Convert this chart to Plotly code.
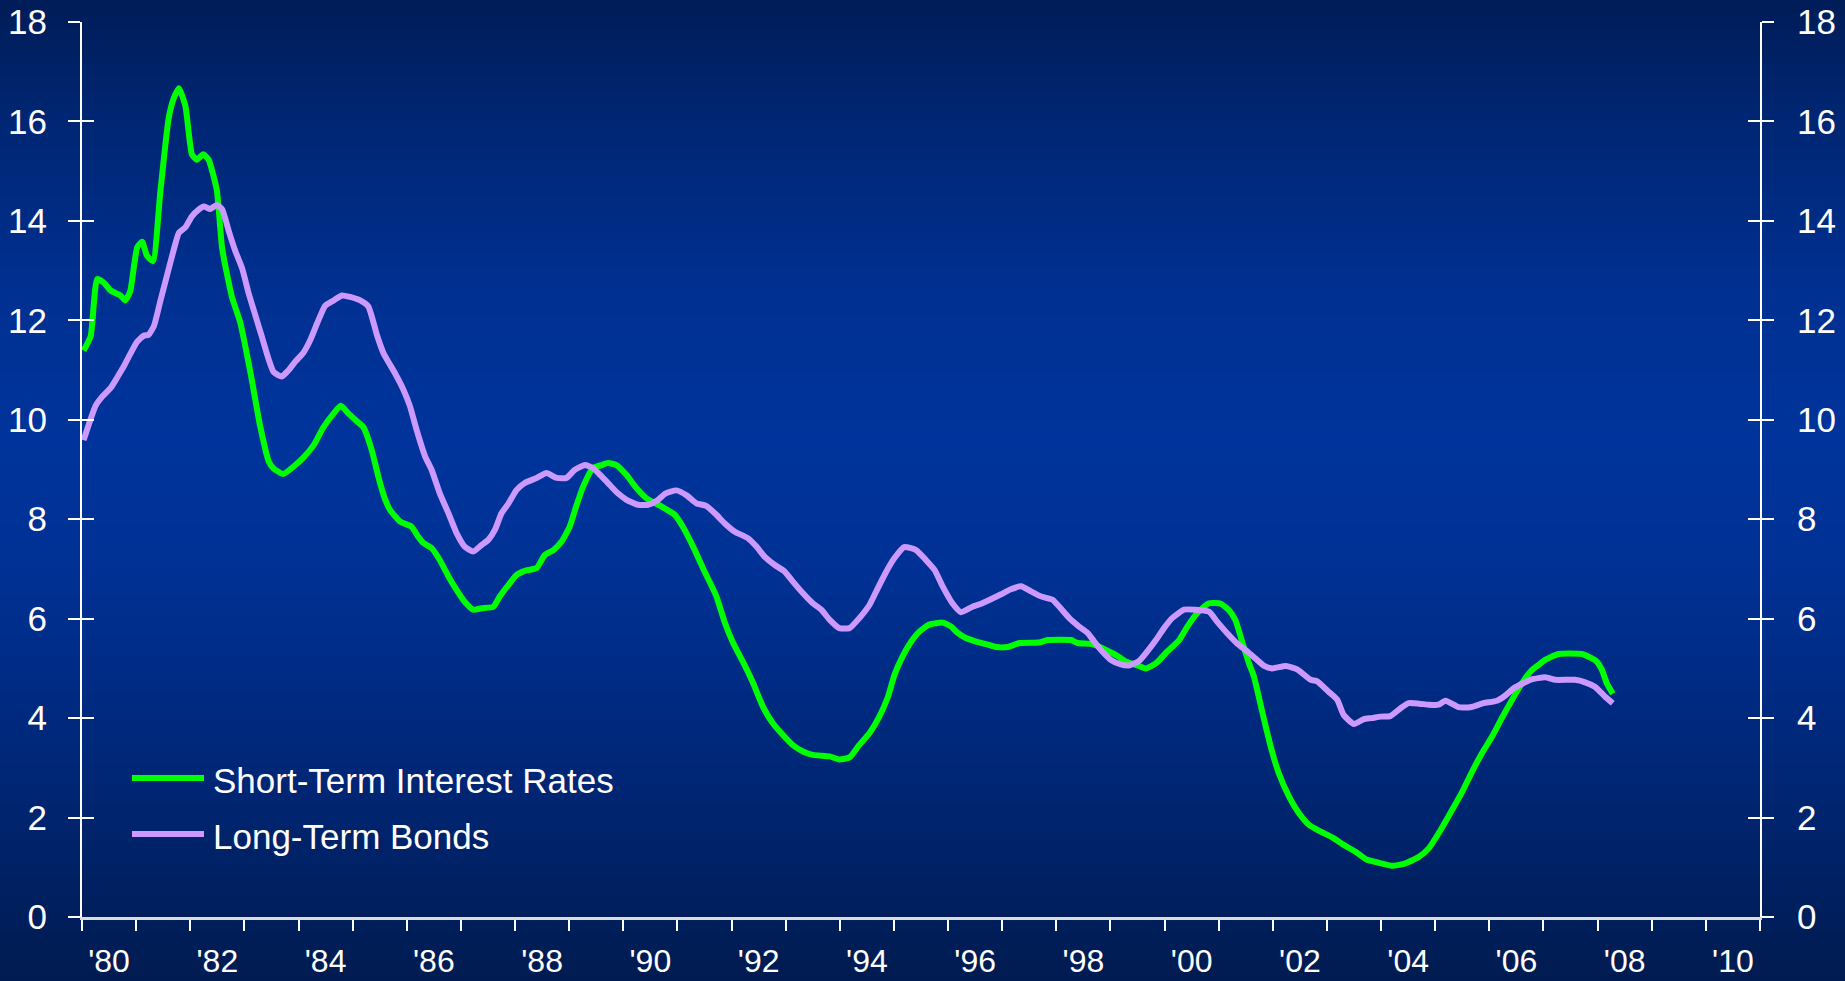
import plotly.graph_objects as go

# ---------------- data ----------------
st_years = [1980.03, 1980.16, 1980.28, 1980.40, 1980.53, 1980.71, 1980.80, 1980.89, 1981.02, 1981.11,
            1981.20, 1981.31, 1981.45, 1981.60, 1981.69, 1981.79, 1981.91, 1982.03, 1982.12, 1982.24,
            1982.34, 1982.49, 1982.59, 1982.77, 1982.92, 1983.11, 1983.29, 1983.45, 1983.54, 1983.72,
            1983.91, 1984.09, 1984.28, 1984.46, 1984.65, 1984.78, 1984.92, 1985.08, 1985.20, 1985.35,
            1985.50, 1985.60, 1985.69, 1985.88, 1986.09, 1986.21, 1986.31, 1986.46, 1986.61, 1986.77,
            1986.92, 1987.07, 1987.23, 1987.38, 1987.60, 1987.72, 1987.88, 1988.03, 1988.21, 1988.40,
            1988.55, 1988.71, 1988.86, 1989.01, 1989.13, 1989.26, 1989.44, 1989.60, 1989.72, 1989.87,
            1990.06, 1990.24, 1990.43, 1990.70, 1990.95, 1991.10, 1991.29, 1991.47, 1991.72, 1991.87,
            1992.03, 1992.24, 1992.40, 1992.58, 1992.76, 1992.95, 1993.13, 1993.32, 1993.50, 1993.81,
            1993.99, 1994.18, 1994.36, 1994.55, 1994.73, 1994.89, 1995.01, 1995.16, 1995.32, 1995.47,
            1995.65, 1995.90, 1996.06, 1996.15, 1996.33, 1996.52, 1996.70, 1996.89, 1997.10, 1997.32,
            1997.68, 1997.84, 1998.27, 1998.39, 1998.67, 1998.88, 1999.13, 1999.28, 1999.50, 1999.65,
            1999.84, 2000.05, 2000.27, 2000.42, 2000.60, 2000.82, 2001.04, 2001.19, 2001.31, 2001.44,
            2001.56, 2001.65, 2001.81, 2001.96, 2002.11, 2002.30, 2002.48, 2002.67, 2002.88, 2003.10,
            2003.31, 2003.53, 2003.74, 2003.96, 2004.20, 2004.45, 2004.70, 2004.88, 2005.10, 2005.28,
            2005.50, 2005.68, 2005.86, 2006.05, 2006.23, 2006.42, 2006.60, 2006.79, 2006.91, 2007.03,
            2007.28, 2007.71, 2007.86, 2007.98, 2008.08, 2008.17, 2008.28]
st_rates = [11.39, 11.68, 12.83, 12.76, 12.60, 12.50, 12.40, 12.58, 13.47, 13.58,
            13.30, 13.19, 14.62, 16.06, 16.45, 16.67, 16.31, 15.34, 15.23, 15.34,
            15.23, 14.62, 13.44, 12.47, 11.97, 10.96, 9.88, 9.16, 9.02, 8.91,
            9.06, 9.24, 9.49, 9.85, 10.13, 10.28, 10.13, 9.97, 9.85, 9.40,
            8.75, 8.40, 8.19, 7.95, 7.85, 7.65, 7.52, 7.42, 7.18, 6.85,
            6.58, 6.34, 6.18, 6.21, 6.24, 6.45, 6.68, 6.88, 6.97, 7.02,
            7.28, 7.38, 7.55, 7.85, 8.26, 8.66, 9.03, 9.09, 9.13, 9.09,
            8.89, 8.63, 8.42, 8.26, 8.09, 7.85, 7.45, 7.02, 6.45, 5.94,
            5.51, 5.07, 4.70, 4.23, 3.90, 3.66, 3.46, 3.33, 3.26, 3.23,
            3.17, 3.21, 3.46, 3.70, 4.03, 4.43, 4.87, 5.24, 5.54, 5.74,
            5.88, 5.92, 5.84, 5.74, 5.61, 5.54, 5.49, 5.43, 5.43, 5.51,
            5.52, 5.57, 5.57, 5.51, 5.49, 5.39, 5.25, 5.14, 5.06, 5.00,
            5.10, 5.34, 5.57, 5.84, 6.11, 6.31, 6.30, 6.17, 5.97, 5.51,
            5.10, 4.84, 4.10, 3.43, 2.89, 2.42, 2.09, 1.85, 1.72, 1.60,
            1.45, 1.31, 1.15, 1.09, 1.03, 1.08, 1.21, 1.38, 1.75, 2.09,
            2.52, 2.92, 3.29, 3.63, 4.00, 4.37, 4.70, 4.97, 5.07, 5.17,
            5.29, 5.29, 5.22, 5.14, 4.97, 4.70, 4.49]

lt_years = [1980.03, 1980.13, 1980.25, 1980.37, 1980.53, 1980.65, 1980.77, 1980.89, 1981.02, 1981.14,
            1981.23, 1981.33, 1981.45, 1981.57, 1981.69, 1981.79, 1981.91, 1982.03, 1982.16, 1982.25,
            1982.37, 1982.49, 1982.59, 1982.71, 1982.83, 1982.96, 1983.08, 1983.20, 1983.32, 1983.45,
            1983.54, 1983.69, 1983.81, 1983.94, 1984.09, 1984.22, 1984.34, 1984.49, 1984.65, 1984.80,
            1984.95, 1985.14, 1985.29, 1985.45, 1985.57, 1985.78, 1985.94, 1986.06, 1986.18, 1986.34,
            1986.46, 1986.61, 1986.77, 1986.92, 1987.07, 1987.23, 1987.38, 1987.51, 1987.63, 1987.75,
            1987.88, 1988.03, 1988.18, 1988.40, 1988.58, 1988.77, 1988.95, 1989.10, 1989.29, 1989.44,
            1989.60, 1989.75, 1989.90, 1990.06, 1990.27, 1990.46, 1990.62, 1990.77, 1990.98, 1991.17,
            1991.35, 1991.53, 1991.72, 1991.87, 1992.06, 1992.30, 1992.46, 1992.61, 1992.80, 1992.98,
            1993.13, 1993.32, 1993.50, 1993.66, 1993.81, 1993.99, 1994.18, 1994.36, 1994.55, 1994.70,
            1994.86, 1995.01, 1995.19, 1995.41, 1995.59, 1995.75, 1995.90, 1996.08, 1996.24, 1996.45,
            1996.61, 1996.79, 1996.98, 1997.16, 1997.35, 1997.53, 1997.71, 1997.93, 1998.08, 1998.24,
            1998.42, 1998.58, 1998.70, 1998.85, 1999.01, 1999.19, 1999.34, 1999.53, 1999.68, 1999.84,
            1999.99, 2000.14, 2000.36, 2000.57, 2000.82, 2000.97, 2001.17, 2001.35, 2001.53, 2001.71,
            2001.84, 2001.99, 2002.24, 2002.45, 2002.70, 2002.82, 2003.03, 2003.19, 2003.31, 2003.50,
            2003.68, 2003.83, 2003.99, 2004.17, 2004.36, 2004.51, 2004.70, 2004.88, 2005.06, 2005.19,
            2005.43, 2005.65, 2005.89, 2006.14, 2006.29, 2006.45, 2006.66, 2006.78, 2007.03, 2007.22,
            2007.58, 2007.77, 2007.95, 2008.14, 2008.28]
lt_rates = [9.59, 9.92, 10.28, 10.46, 10.64, 10.85, 11.07, 11.32, 11.57, 11.69,
            11.71, 11.89, 12.40, 12.90, 13.40, 13.76, 13.87, 14.09, 14.23, 14.29,
            14.24, 14.32, 14.23, 13.80, 13.40, 13.04, 12.54, 12.11, 11.68, 11.21,
            10.96, 10.87, 10.99, 11.17, 11.35, 11.61, 11.93, 12.29, 12.40, 12.50,
            12.47, 12.40, 12.28, 11.70, 11.34, 10.94, 10.60, 10.27, 9.80, 9.26,
            8.99, 8.52, 8.12, 7.72, 7.45, 7.35, 7.48, 7.59, 7.79, 8.12,
            8.32, 8.59, 8.73, 8.83, 8.93, 8.83, 8.83, 8.99, 9.09, 9.03,
            8.86, 8.69, 8.52, 8.39, 8.29, 8.29, 8.37, 8.51, 8.58, 8.48,
            8.32, 8.27, 8.09, 7.92, 7.75, 7.62, 7.45, 7.25, 7.08, 6.95,
            6.75, 6.51, 6.31, 6.18, 5.98, 5.81, 5.81, 6.01, 6.28, 6.61,
            6.95, 7.22, 7.44, 7.38, 7.18, 6.98, 6.65, 6.31, 6.13, 6.24,
            6.30, 6.39, 6.49, 6.59, 6.65, 6.55, 6.45, 6.38, 6.21, 6.01,
            5.84, 5.71, 5.54, 5.34, 5.17, 5.08, 5.06, 5.15, 5.34, 5.57,
            5.81, 6.01, 6.18, 6.18, 6.14, 5.94, 5.69, 5.49, 5.34, 5.17,
            5.05, 5.00, 5.05, 4.98, 4.77, 4.74, 4.53, 4.37, 4.06, 3.88,
            3.98, 4.00, 4.03, 4.04, 4.20, 4.30, 4.29, 4.27, 4.27, 4.35,
            4.22, 4.22, 4.30, 4.35, 4.45, 4.60, 4.72, 4.78, 4.82, 4.77,
            4.77, 4.72, 4.63, 4.43, 4.30]

series_names = ["Short-Term Interest Rates", "Long-Term Bonds"]
series_colors = ["#00ff00", "#cc99ff"]

tick_years = list(range(1980, 2012))
label_years = [1980, 1982, 1984, 1986, 1988, 1990, 1992, 1994, 1996, 1998,
               2000, 2002, 2004, 2006, 2008, 2010]
tick_labels = ["'80", "'82", "'84", "'86", "'88", "'90", "'92", "'94", "'96", "'98",
               "'00", "'02", "'04", "'06", "'08", "'10"]
y_ticks = [0, 2, 4, 6, 8, 10, 12, 14, 16, 18]

# ---------------- layout constants ----------------
W, H = 1845, 981
ML, MR, MT, MB = 82, 85, 22, 64
PW, PH = W - ML - MR, H - MT - MB
FONT = "Liberation Sans, Arial, sans-serif"
WHITE = "#ffffff"

fig = go.Figure()
fig.add_trace(go.Scatter(x=st_years, y=st_rates, mode="lines", name=series_names[0],
                         line=dict(color=series_colors[0], width=6, shape="spline", smoothing=0.5),
                         showlegend=False, hoverinfo="x+y"))
fig.add_trace(go.Scatter(x=lt_years, y=lt_rates, mode="lines", name=series_names[1],
                         line=dict(color=series_colors[1], width=6, shape="spline", smoothing=0.5),
                         showlegend=False, hoverinfo="x+y"))

# invisible helper traces so the overlay axes are drawn
for xa, ya in [("x2", "y"), ("x", "y2"), ("x", "y3"), ("x", "y4")]:
    fig.add_trace(go.Scatter(x=[tick_years[0]], y=[y_ticks[0]], xaxis=xa, yaxis=ya,
                             mode="markers", marker=dict(opacity=0, size=1),
                             showlegend=False, hoverinfo="skip"))

# ---------------- background gradient (bands) ----------------
stops = [(0.00, (0, 28, 88)), (0.12, (0, 38, 115)), (0.30, (0, 48, 145)),
         (0.45, (0, 52, 156)), (0.60, (0, 48, 146)), (0.80, (0, 38, 116)),
         (0.92, (0, 31, 94)), (1.00, (0, 27, 80))]


def grad(f):
    for (f0, c0), (f1, c1) in zip(stops[:-1], stops[1:]):
        if f0 <= f <= f1:
            t = (f - f0) / (f1 - f0)
            return "rgb(%d,%d,%d)" % tuple(round(a + (b - a) * t) for a, b in zip(c0, c1))
    return "rgb(%d,%d,%d)" % stops[-1][1]


def py(p):  # pixel row from top -> paper y
    return (H - MB - p) / PH


def px(p):  # pixel column from left -> paper x
    return (p - ML) / PW


NB = 140
for i in range(NB):
    p0, p1 = i * H / NB, (i + 1) * H / NB + 0.8
    if i == 0:
        p0 = -30
    if i == NB - 1:
        p1 = H + 30
    fig.add_shape(type="rect", xref="paper", yref="paper", x0=px(-30), x1=px(W + 30),
                  y0=py(p1), y1=py(p0), fillcolor=grad((i + 0.5) / NB),
                  line=dict(width=0), layer="below")

# ---------------- custom legend ----------------
leg_rows = [778, 834]
for name, color, row in zip(series_names, series_colors, leg_rows):
    fig.add_shape(type="line", xref="paper", yref="paper", x0=px(132), x1=px(204),
                  y0=py(row), y1=py(row), line=dict(color=color, width=6))
    fig.add_annotation(xref="paper", yref="paper", x=px(211), y=py(row + 2), xanchor="left",
                       yanchor="middle", text=name, showarrow=False,
                       font=dict(family=FONT, size=35, color=WHITE))

axis_common = dict(showgrid=False, zeroline=False, fixedrange=True, automargin=False)
fig.update_layout(
    width=W, height=H,
    margin=dict(l=ML, r=MR, t=MT, b=MB, pad=0, autoexpand=False),
    paper_bgcolor="rgb(0,40,120)", plot_bgcolor="rgba(0,0,0,0)",
    font=dict(family=FONT, color=WHITE),
    showlegend=False,
    xaxis=dict(range=[1980, 2011], tickmode="array", tickvals=tick_years,
               ticktext=[""] * len(tick_years), ticks="outside", ticklen=11, tickwidth=2,
               tickcolor=WHITE, showline=True, linecolor="#dcdcdc", linewidth=3, **axis_common),
    xaxis2=dict(range=[1980, 2011], overlaying="x", side="bottom", anchor="y",
                tickmode="array", tickvals=[y + 0.5 for y in label_years], ticktext=tick_labels,
                ticks="", showline=False, ticklabelstandoff=22,
                tickfont=dict(family=FONT, size=32, color=WHITE), **axis_common),
    yaxis=dict(range=[0, 18], tickmode="array", tickvals=y_ticks, ticks="outside",
               ticklen=12, tickwidth=2, tickcolor=WHITE, showline=True, linecolor=WHITE,
               linewidth=2, ticklabelstandoff=14,
               tickfont=dict(family=FONT, size=35, color=WHITE), **axis_common),
    yaxis3=dict(range=[0, 18], overlaying="y", side="left", anchor="x", tickmode="array",
                tickvals=y_ticks, ticks="inside", ticklen=12, tickwidth=2, tickcolor=WHITE,
                showticklabels=False, showline=False, **axis_common),
    yaxis2=dict(range=[0, 18], overlaying="y", side="right", anchor="x", tickmode="array",
                tickvals=y_ticks, ticks="outside", ticklen=12, tickwidth=2, tickcolor=WHITE,
                showline=True, linecolor=WHITE, linewidth=2, ticklabelstandoff=16,
                tickfont=dict(family=FONT, size=35, color=WHITE), **axis_common),
    yaxis4=dict(range=[0, 18], overlaying="y", side="right", anchor="x", tickmode="array",
                tickvals=y_ticks, ticks="inside", ticklen=12, tickwidth=2, tickcolor=WHITE,
                showticklabels=False, showline=False, **axis_common),
)

post = ("document.documentElement.style.margin='0';document.documentElement.style.padding='0';"
        "document.body.style.margin='0';document.body.style.padding='0';"
        "document.body.style.overflow='hidden';document.body.style.background='rgb(0,28,88)';")
fig.write_html("out.html", config={"displayModeBar": False}, post_script=post)
